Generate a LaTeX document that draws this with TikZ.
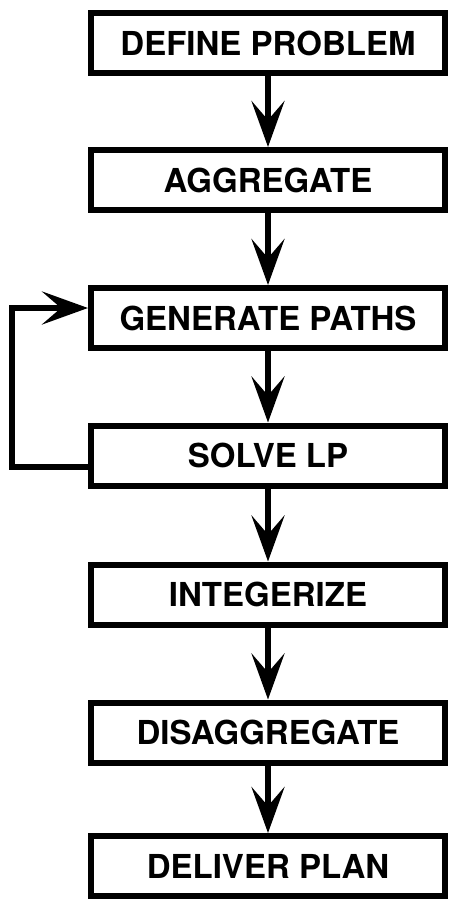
\documentclass[tikz,border=0pt]{standalone}
\usepackage{fontspec}
\setmainfont{TeX Gyre Heros}
\usetikzlibrary{arrows.meta}
\tikzset{
  stepbox/.style={draw=black, line width=6pt, rectangle, minimum width=354pt, minimum height=60pt, inner sep=0pt, font=\fontsize{33pt}{36pt}\selectfont\bfseries, fill=white},
  flow/.style={line width=6pt, line join=miter, -{Stealth[length=46pt,width=33pt,inset=19pt]}}
}
\begin{document}
\begin{tikzpicture}[x=1pt,y=1pt]
\useasboundingbox[fill=white] (0,0) rectangle (448,-899);
\node[stepbox] (d) at (268,-43) {DEFINE PROBLEM};
\node[stepbox] (a) at (268,-180) {AGGREGATE};
\node[stepbox] (g) at (268,-318) {GENERATE PATHS};
\node[stepbox] (s) at (268,-455.5) {SOLVE LP};
\node[stepbox] (i) at (268,-594.5) {INTEGERIZE};
\node[stepbox] (da) at (268,-732.5) {DISAGGREGATE};
\node[stepbox] (p) at (268,-866) {DELIVER PLAN};
\draw[flow] (d) -- (a);
\draw[flow] (a) -- (g);
\draw[flow] (g) -- (s);
\draw[flow] (s) -- (i);
\draw[flow] (i) -- (da);
\draw[flow] (da) -- (p);
\coordinate (c1) at (12,-467);
\coordinate (c2) at (12,-308);
\draw[flow] (s.west|-c1) -- (c1) -- (c2) -- (g.west|-c2);
\end{tikzpicture}
\end{document}
